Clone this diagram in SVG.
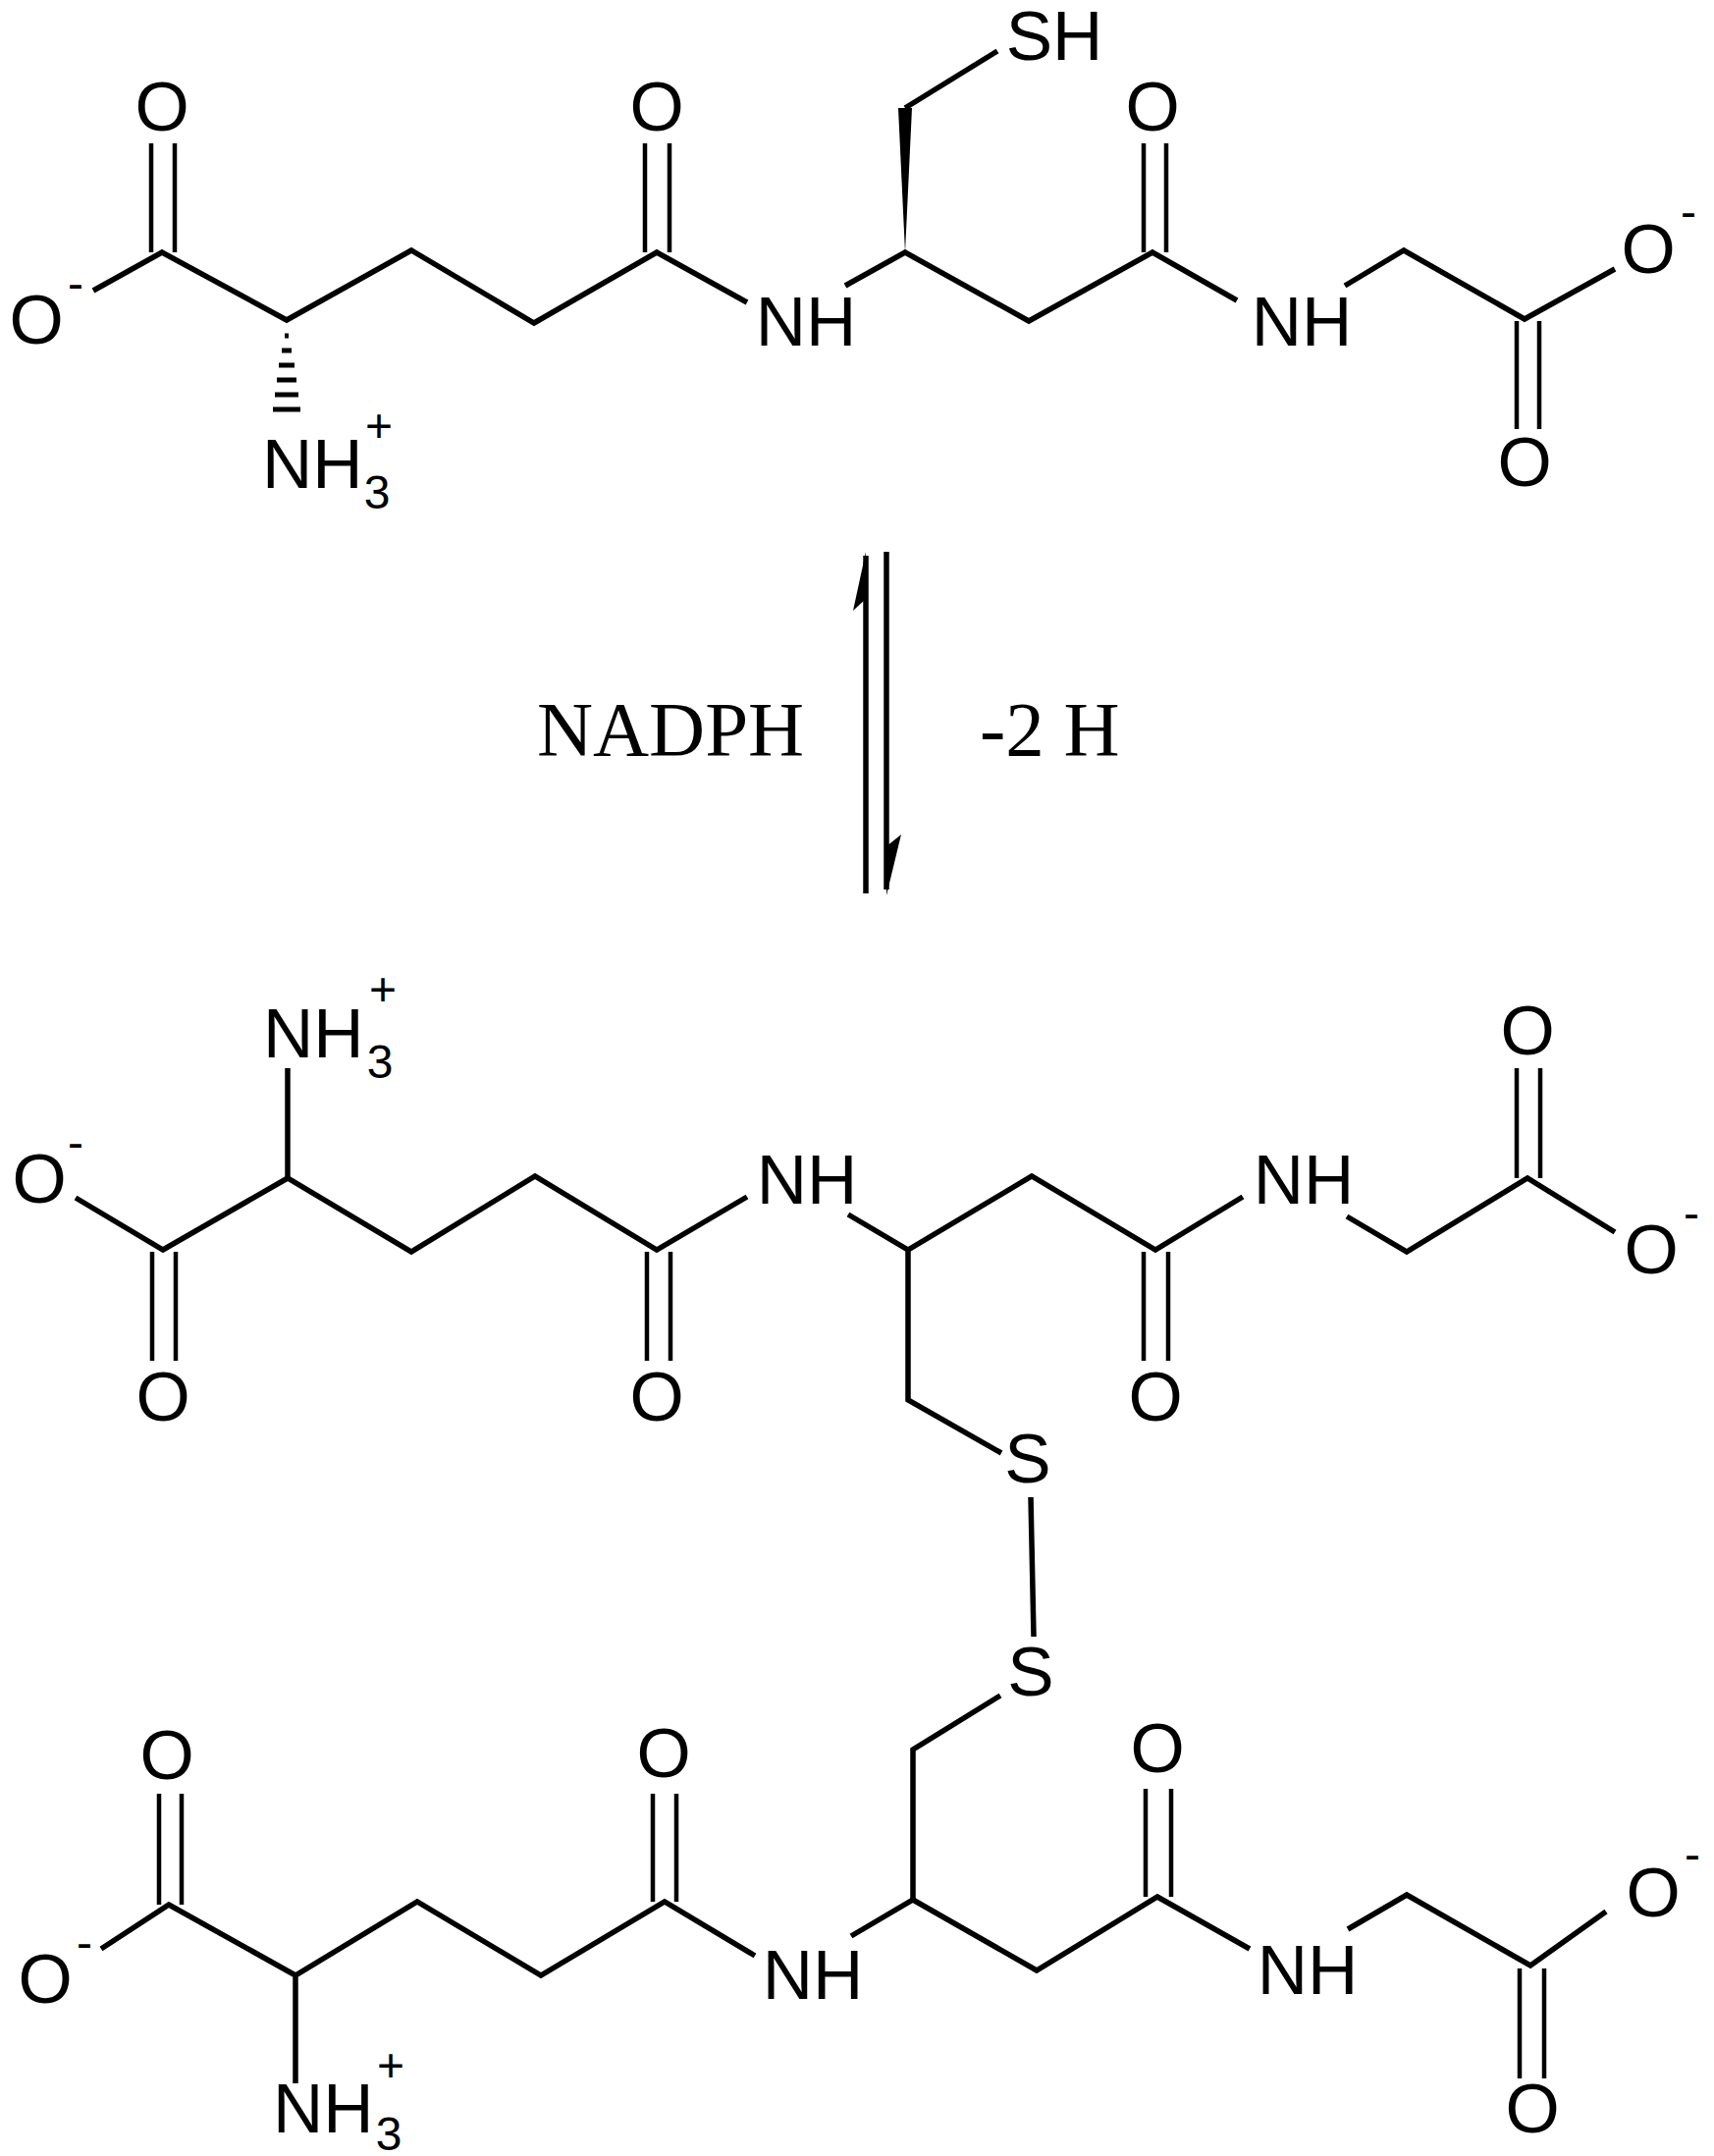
<svg xmlns="http://www.w3.org/2000/svg" width="1746" height="2196" viewBox="0 0 1746 2196">
<style>
.b{stroke:#000;stroke-width:5.5;fill:none;stroke-linecap:butt;stroke-linejoin:miter}
.d{stroke:#000;stroke-width:4.5;fill:none}
.t{font-family:"Liberation Sans",Arial,sans-serif;font-size:71px;fill:#000;text-anchor:middle}
.s{font-family:"Liberation Sans",Arial,sans-serif;font-size:48px;fill:#000;text-anchor:middle}
.r{font-family:"Liberation Serif","Times New Roman",serif;font-size:79px;fill:#000}
</style>
<rect width="1746" height="2196" fill="#fff"/>
<g id="connectors">
<polyline class="b" points="95,296 165,257 292,326 419,255 544,329 669,257 761,308"/>
<polyline class="b" points="861,291 922,257 1048,327 1174,257 1260,306"/>
<polyline class="b" points="1370,291 1430,255 1553,325 1645,274"/>
<path class="d" d="M154,146V257M178,146V257M657,146V257M682,146V257M1165,146V257M1188,146V257M1545,327V437M1568,327V437"/>
<polygon points="922,257 915,110 929,110" fill="#000"/>
<line class="b" x1="922" y1="110" x2="1016" y2="52"/>
<path stroke="#000" stroke-width="5" d="M290,342h4M287,357h10M284,372h16M282,387h20M280,402h24M278,417h28"/>
<line class="b" x1="882" y1="566" x2="882" y2="910"/>
<polygon points="882,562 869,622 882,610" fill="#000"/>
<line class="b" x1="903" y1="562" x2="903" y2="906"/>
<polygon points="903,912 918,850 903,862" fill="#000"/>
<polyline class="b" points="77,1220 166,1273 293,1200 419,1275 545,1198 669,1273 761,1219"/>
<polyline class="b" points="864,1237 925,1273 1051,1198 1177,1273 1266,1219"/>
<polyline class="b" points="1372,1239 1433,1275 1556,1200 1645,1255"/>
<line class="b" x1="293" y1="1200" x2="293" y2="1088"/>
<path class="d" d="M155,1275V1386M179,1275V1386M659,1275V1386M683,1275V1386M1165,1275V1386M1190,1275V1386M1545,1088V1200M1569,1088V1200"/>
<polyline class="b" points="925,1273 925,1426 1020,1480"/>
<line class="b" x1="1050" y1="1525" x2="1053" y2="1667"/>
<polyline class="b" points="1019,1727 930,1782 930,1935"/>
<polyline class="b" points="103,1985 172,1940 301,2012 425,1937 551,2012 677,1937 769,1992"/>
<polyline class="b" points="867,1972 930,1935 1056,2007 1179,1932 1273,1985"/>
<polyline class="b" points="1373,1965 1433,1930 1559,2002 1636,1947"/>
<line class="b" x1="301" y1="2012" x2="301" y2="2122"/>
<path class="d" d="M162,1827V1940M185,1827V1940M665,1827V1937M689,1827V1937M1167,1822V1932M1193,1822V1932M1548,2005V2117M1573,2005V2117"/>
</g>
<g id="top-molecule">
<text class="t" x="165" y="133">O</text>
<text class="t" x="37" y="350">O</text><text class="s" x="77" y="305">-</text>
<text class="t" x="669" y="133">O</text>
<text class="t" x="821" y="352">NH</text>
<text class="t" x="1174" y="133">O</text>
<text class="t" x="1326" y="352">NH</text>
<text class="t" x="1074" y="61">SH</text>
<text class="t" x="1679" y="278">O</text><text class="s" x="1720" y="232">-</text>
<text class="t" x="1553" y="495">O</text>
<text class="t" x="267" y="497" style="text-anchor:start">NH</text>
<text class="s" x="384" y="518">3</text><text class="s" x="386" y="450">+</text>
</g>
<g id="reaction-labels">
<text class="r" x="547" y="769">NADPH</text>
<text class="r" x="998" y="769">-2 H</text>
</g>
<g id="bottom-molecule-1">
<text class="t" x="40" y="1225">O</text><text class="s" x="77" y="1180">-</text>
<text class="t" x="268" y="1077" style="text-anchor:start">NH</text>
<text class="s" x="387" y="1098">3</text><text class="s" x="390" y="1024">+</text>
<text class="t" x="166" y="1447">O</text>
<text class="t" x="669" y="1447">O</text>
<text class="t" x="822" y="1226">NH</text>
<text class="t" x="1177" y="1447">O</text>
<text class="t" x="1328" y="1226">NH</text>
<text class="t" x="1556" y="1074">O</text>
<text class="t" x="1682" y="1297">O</text><text class="s" x="1723" y="1252">-</text>
<text class="t" x="1047" y="1510">S</text>
<text class="t" x="1050" y="1727">S</text>
</g>
<g id="bottom-molecule-2">
<text class="t" x="170" y="1812">O</text>
<text class="t" x="46" y="2040">O</text><text class="s" x="86" y="1995">-</text>
<text class="t" x="278" y="2172" style="text-anchor:start">NH</text>
<text class="s" x="396" y="2190">3</text><text class="s" x="398" y="2120">+</text>
<text class="t" x="676" y="1810">O</text>
<text class="t" x="828" y="2036">NH</text>
<text class="t" x="1179" y="1805">O</text>
<text class="t" x="1332" y="2031">NH</text>
<text class="t" x="1684" y="1952">O</text><text class="s" x="1724" y="1905">-</text>
<text class="t" x="1561" y="2172">O</text>
</g>
</svg>
